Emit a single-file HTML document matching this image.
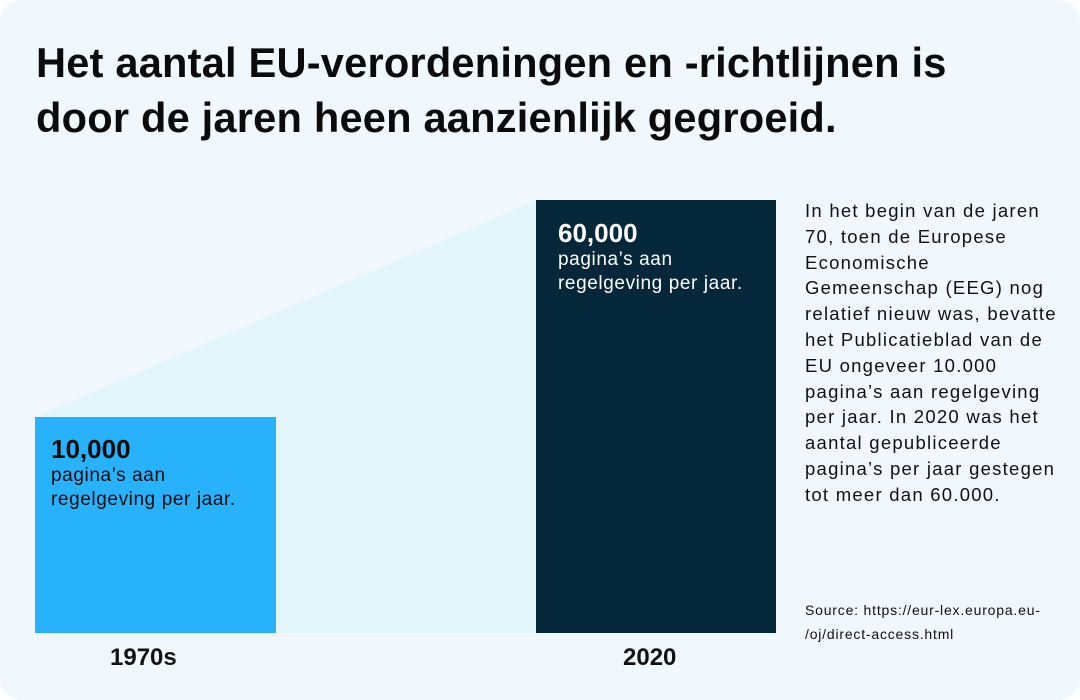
<!DOCTYPE html>
<html><head><meta charset="utf-8"><style>
body{margin:0;width:1080px;height:700px;background:#fff;font-family:"Liberation Sans",sans-serif;overflow:hidden}
.panel{position:absolute;left:0;top:0;width:1080px;height:700px;background:#f0f8fe;border-radius:22px}
.abs{position:absolute}
h1{position:absolute;left:36px;top:35px;margin:0;font-size:41.6px;line-height:55px;font-weight:bold;color:#0b0b0b;letter-spacing:0.2px}
.num{font-size:26px;font-weight:bold;line-height:30px}
.sub{font-size:19px;line-height:24px;letter-spacing:0.6px}
.side{left:805px;top:198px;width:280px;font-size:18.5px;line-height:25.8px;color:#111;white-space:nowrap;letter-spacing:1.25px}
.src{left:805px;top:598px;font-size:14px;line-height:24px;color:#111;letter-spacing:0.8px}
.lab{font-size:24px;font-weight:bold;color:#111}
</style></head><body>
<div class="panel"></div>
<h1>Het aantal EU-verordeningen en -richtlijnen is<br>door de jaren heen aanzienlijk gegroeid.</h1>
<svg class="abs" style="left:0;top:0" width="1080" height="700">
<polygon points="35,417 536,200 536,633 35,633" fill="#e2f5fb"/>
<rect x="35" y="417" width="241" height="216" fill="#27b2fb"/>
<rect x="536" y="200" width="240" height="433" fill="#04273a"/>
</svg>
<div class="abs" style="left:51px;top:434px;color:#0b0b0b"><div class="num">10,000</div><div class="sub">pagina’s aan<br>regelgeving per jaar.</div></div>
<div class="abs" style="left:558px;top:218px;color:#fff"><div class="num">60,000</div><div class="sub">pagina’s aan<br>regelgeving per jaar.</div></div>
<div class="abs side">In het begin van de jaren<br>70, toen de Europese<br>Economische<br>Gemeenschap (EEG) nog<br>relatief nieuw was, bevatte<br>het Publicatieblad van de<br>EU ongeveer 10.000<br>pagina’s aan regelgeving<br>per jaar. In 2020 was het<br>aantal gepubliceerde<br>pagina’s per jaar gestegen<br>tot meer dan 60.000.</div>
<div class="abs src">Source: https://eur-lex.europa.eu-<br>/oj/direct-access.html</div>
<div class="abs lab" style="left:110px;top:644px">1970s</div>
<div class="abs lab" style="left:623px;top:644px">2020</div>
</body></html>
